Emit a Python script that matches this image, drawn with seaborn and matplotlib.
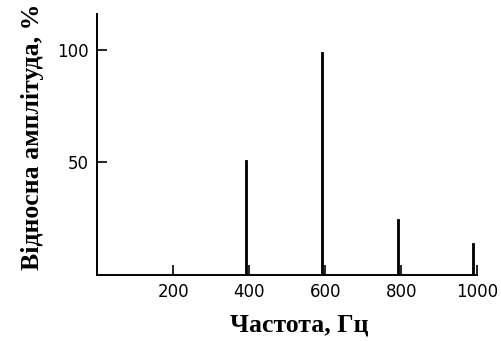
import numpy as np
import pandas as pd
import seaborn as sns
import matplotlib.pyplot as plt

# спектральні лінії (частота, Гц -> відносна амплітуда, %)
freq = [392, 592, 790, 988]
amp = [51, 99, 25, 14]
xticks = [200, 400, 600, 800, 1000]
yticks = [50, 100]

sns.set_style("ticks")
plt.rcParams['font.family'] = ['DejaVu Sans']

df = pd.DataFrame({"freq": freq, "amp": amp})

fig = plt.figure(figsize=(5.02, 3.41), dpi=100)
ax = fig.add_axes([0.194, 0.194, 0.757, 0.765])

sns.barplot(data=df, x="freq", y="amp", native_scale=True, width=0.025,
            color="black", edgecolor="black", linewidth=0.6, ax=ax)

ax.set_xlim(0, 1000)
ax.set_ylim(0, 116)
ax.set_xticks(xticks)
ax.set_xticklabels([str(t) for t in xticks])
ax.set_yticks(yticks)
ax.set_yticklabels([str(t) for t in yticks])

sns.despine(ax=ax)
for s in ("left", "bottom"):
    ax.spines[s].set_linewidth(1.4)
    ax.spines[s].set_color("black")
ax.tick_params(direction="in", length=7, width=1.2, labelsize=12,
               colors="black", pad=6)

lab = dict(family="Liberation Serif", fontweight="bold", fontsize=18.5,
           color="black")
ax.set_xlabel("Частота, Гц", **lab)
ax.set_ylabel("Відносна амплітуда, %", **lab)
ax.xaxis.set_label_coords(0.53, -0.15)
ax.yaxis.set_label_coords(-0.14, 0.53)

fig.savefig("out.png", dpi=100)
